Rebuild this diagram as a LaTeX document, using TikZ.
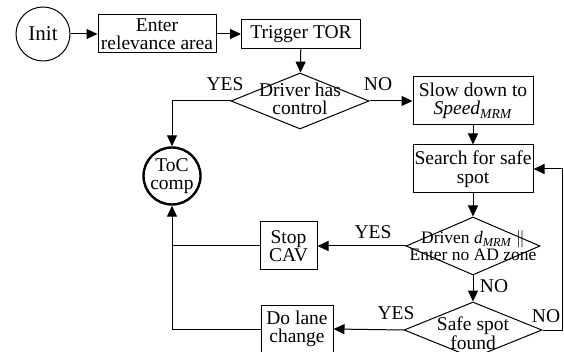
\documentclass[tikz,border=0pt]{standalone}
\usepackage{fontspec}
\setmainfont{Liberation Serif}
\usetikzlibrary{arrows.meta,shapes.geometric}

\begin{document}
\begin{tikzpicture}[x=1pt,y=-1pt]
\tikzset{every node/.style={font=\fontsize{19.5}{18.5}\selectfont}}
\tikzset{box/.style={draw,line width=1pt,rectangle,inner sep=1pt,align=center}}
\tikzset{decision/.style={draw,line width=1pt,diamond,inner sep=0pt}}
\tikzset{state/.style={draw,circle,inner sep=0pt,line width=1pt}}
\tikzset{flow/.style={line width=1pt,-{Triangle[length=11pt,width=10pt]}}}
\tikzset{wire/.style={line width=1pt}}

\useasboundingbox (0,0) rectangle (564,352);

\node[state,minimum size=54pt] (init) at (43,34) {\fontsize{21}{21}\selectfont Init};
\node[box,minimum width=118pt,minimum height=38pt] (enter) at (157,34) {Enter\\relevance area};
\node[box,minimum width=119pt,minimum height=29pt] (tor) at (301,34) {Trigger TOR};
\node[decision,minimum width=138pt,minimum height=56pt] (drv) at (300,101) {};
\node[align=center] (drvtxt) at (300,99) {Driver has\\control};
\node[state,line width=2.4pt,minimum size=57pt] (toc) at (172,176) {};
\node[align=center] (toctxt) at (172,176) {ToC\\comp};
\node[box,minimum width=120pt,minimum height=48pt] (slow) at (473,101) {Slow down to\\\textit{Speed}\textsubscript{\textit{MRM}}};
\node[box,minimum width=120pt,minimum height=48pt] (search) at (473,169) {Search for safe\\spot};
\node[decision,minimum width=134pt,minimum height=58pt] (dmrm) at (473,246) {};
\node[align=center,font=\fontsize{17.5}{17}\selectfont] (dmrmtxt) at (473,246) {Driven \textit{d}\textsubscript{\textit{MRM}} $\|$\\Enter no AD zone};
\node[box,minimum width=57pt,minimum height=48pt] (stop) at (288.5,246) {Stop\\CAV};
\node[decision,minimum width=138pt,minimum height=56pt] (safe) at (473,330) {};
\node[align=center] (safetxt) at (473,333) {Safe spot\\found};
\node[box,minimum width=72pt,minimum height=47pt] (lane) at (297,329) {Do lane\\change};
\coordinate (back) at (562,330);

\node (yes1) at (225,84) {YES};
\node (no1) at (378,84) {NO};
\node (yes2) at (373,232) {YES};
\node (no2) at (494,286) {NO};
\node (yes3) at (396,313) {YES};
\node (no3) at (546,316) {NO};

\draw[flow] (init) -- (enter);
\draw[flow] (enter) -- (tor);
\draw[flow] (tor) -- (drv);
\draw[flow] (drv.west) -| (toc.north);
\draw[flow] (drv.east) -- (slow.west);
\draw[flow] (slow) -- (search);
\draw[flow] (search) -- (dmrm.north);
\draw[flow] (dmrm.west) -- (stop.east);
\draw[flow] (dmrm.south) -- (safe.north);
\draw[flow] (safe.west) -- (lane.east);
\draw[flow] (safe.east) -- (back) |- (search.east);
\draw[wire] (stop.west) -- (stop.west -| toc);
\draw[flow] (lane.west) -| (toc.south);
\end{tikzpicture}
\end{document}
